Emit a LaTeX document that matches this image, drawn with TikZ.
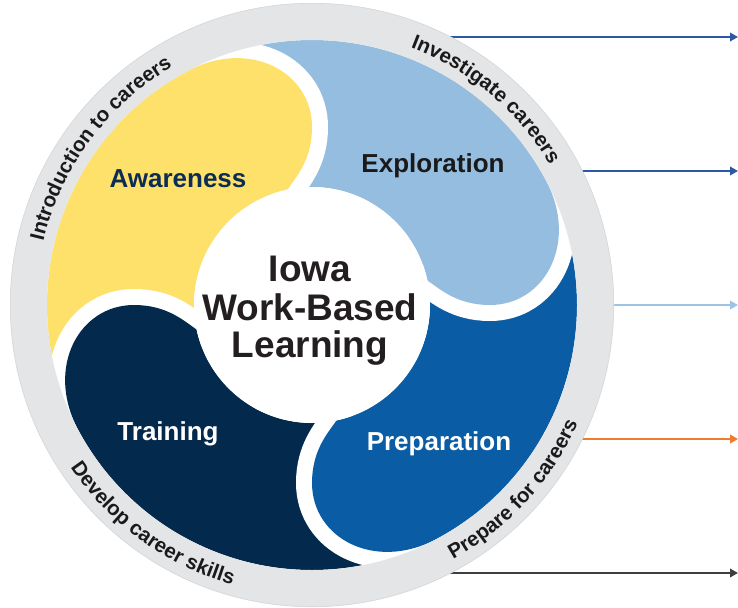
\documentclass[tikz,border=0pt]{standalone}
\usepackage{fontspec}
\setmainfont{Liberation Sans}
\usetikzlibrary{arrows.meta,decorations.text,calc}
\definecolor{yel}{HTML}{FEE16A}
\definecolor{lblue}{HTML}{95BDE0}
\definecolor{pblue}{HTML}{0A5CA5}
\definecolor{navy}{HTML}{03294D}
\definecolor{ringgrey}{HTML}{E4E5E7}
\definecolor{ringedge}{HTML}{D6D7D9}
\definecolor{ringtext}{HTML}{1A1A1A}
\definecolor{awtext}{HTML}{0B2D55}
\definecolor{titletext}{HTML}{231F20}
\definecolor{arrblue}{HTML}{2D58A5}
\definecolor{arrlight}{HTML}{9DC3E6}
\definecolor{arrorange}{HTML}{F07A2E}
\definecolor{arrgrey}{HTML}{3F3F3F}
\newcommand\ringfont{\bfseries\fontsize{20.5}{24}\selectfont}

\begin{document}
\begin{tikzpicture}[x=1pt,y=1pt,
  segpath/.style={insert path={({#1+118}:265) .. controls ({#1+103.2}:274.1) and ({#1+90}:233) .. ({#1+90}:178) .. controls ({#1+90}:145) and ({#1+97.1}:129) .. ({#1+102}:118) arc[start angle={#1+102}, end angle={#1+215}, radius=118] -- ({#1+215}:265) arc[start angle={#1+215}, end angle={#1+118}, radius=265] -- cycle}},
  frontpath/.style={insert path={({#1+127}:265) arc[start angle={#1+127}, end angle={#1+118}, radius=265] .. controls ({#1+103.2}:274.1) and ({#1+90}:233) .. ({#1+90}:178) .. controls ({#1+90}:145) and ({#1+97.1}:129) .. ({#1+102}:118) -- ({#1+104}:95)}},
  headclip/.style={insert path={(0,0) -- ({#1+80}:340) arc[start angle={#1+80}, end angle={#1+150}, radius=340] -- cycle}},
  gapline/.style={draw=white, line width=32, line join=round},
  seglabel/.style={font=\bfseries\fontsize{26}{30}\selectfont, anchor=base},
  titlestyle/.style={font=\bfseries\fontsize{37}{40}\selectfont, anchor=base, text=titletext},
  arrowline/.style={line width=1.9, -{Triangle[length=8pt,width=8.5pt]}},
  ringlabel/.style={decorate, decoration={text along path, text align=center, text color=ringtext, text={|\ringfont|#1}}}
]
\useasboundingbox (0,0) rectangle (738,-607);

% arrows (start hidden under the ring)
\coordinate (s1) at (446,-37);  \coordinate (e1) at (738,-37);
\coordinate (s2) at (578,-171); \coordinate (e2) at (738,-171);
\coordinate (s3) at (608,-305); \coordinate (e3) at (738,-305);
\coordinate (s4) at (578,-439); \coordinate (e4) at (738,-439);
\coordinate (s5) at (446,-573); \coordinate (e5) at (738,-573);
\draw[arrowline, arrblue] (s1) -- (e1);
\draw[arrowline, arrblue] (s2) -- (e2);
\draw[arrowline, arrlight] (s3) -- (e3);
\draw[arrowline, arrorange] (s4) -- (e4);
\draw[arrowline, arrgrey] (s5) -- (e5);

\begin{scope}[shift={(312,-305)}]
  % bodies
  \foreach \o/\c in {0/yel, -90/lblue, -180/pblue, -270/navy} {
    \fill[\c, segpath=\o];
  }
  % heads with white gaps
  \foreach \o/\c in {0/yel, -90/lblue, -180/pblue, -270/navy} {
    \draw[gapline, frontpath=\o];
    \begin{scope}
      \clip[headclip=\o];
      \fill[\c, segpath=\o];
    \end{scope}
  }
  % centre
  \fill[white] (0,0) circle[radius=118];
  % ring
  \draw[ringgrey, line width=37] (0,0) circle[radius=283.5];
  \draw[ringedge, line width=0.6] (0,0) circle[radius=301.7];
  % ring texts
  \path[ringlabel={Introduction to careers}] (183.5:276) arc[start angle=183.5, end angle=103.5, radius=276];
  \path[ringlabel={Investigate careers}] (89.8:276) arc[start angle=89.8, end angle=9.8, radius=276];
  \path[ringlabel={Prepare for careers}] (-82.5:291) arc[start angle=-82.5, end angle=-2.5, radius=291];
  \path[ringlabel={Develop career skills}] (194:291) arc[start angle=194, end angle=274, radius=291];
\end{scope}

% segment labels
\node[seglabel, text=awtext] (aw) at (178,-187) {Awareness};
\node[seglabel, text=ringtext] (ex) at (433,-172) {Exploration};
\node[seglabel, text=white] (tr) at (168,-440) {Training};
\node[seglabel, text=white] (pr) at (439,-450) {Preparation};

% title
\node[titlestyle] (t1) at (310,-281) {Iowa};
\node[titlestyle] (t2) at (310,-320) {Work-Based};
\node[titlestyle] (t3) at (310,-357) {Learning};
\end{tikzpicture}
\end{document}
